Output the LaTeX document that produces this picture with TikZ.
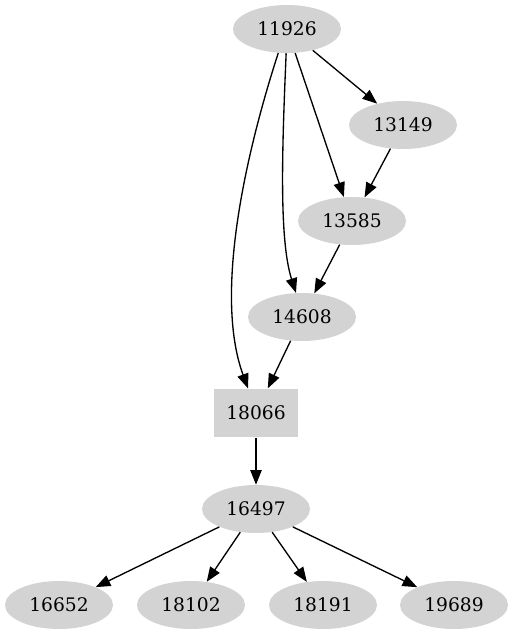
\documentclass[tikz,border=0pt]{standalone}
\usepackage{fontspec}
\setmainfont{DejaVu Serif}
\usetikzlibrary{shapes.geometric,arrows.meta}
\definecolor{lgrey}{HTML}{D3D3D3}
\begin{document}
\begin{tikzpicture}[x=0.75pt,y=-0.75pt,
  el/.style={ellipse,fill=lgrey,draw=none,minimum width=81pt,minimum height=36pt,inner sep=0pt,font=\fontsize{14}{16}\selectfont},
  bx/.style={rectangle,fill=lgrey,draw=none,minimum width=63pt,minimum height=36.5pt,inner sep=0pt,font=\fontsize{14}{16}\selectfont},
  edge/.style={line width=1pt,-{Triangle[length=11pt,width=8.5pt]}}]
\path[use as bounding box] (0,0) rectangle (514,635);
\node[el] (n11926) at (287,29) {11926};
\node[el] (n13149) at (403,125) {13149};
\node[el] (n13585) at (352,221) {13585};
\node[el] (n14608) at (302,317) {14608};
\node[bx] (n18066) at (256,413) {18066};
\node[el] (n16497) at (256,509) {16497};
\node[el] (n16652) at (59,605) {16652};
\node[el] (n18102) at (191,605) {18102};
\node[el] (n18191) at (323,605) {18191};
\node[el] (n19689) at (454,605) {19689};
\draw[edge] (n11926) -- (n13149);
\draw[edge] (n11926) -- (n13585);
\draw[edge] (n13149) -- (n13585);
\draw[edge] (n13585) -- (n14608);
\draw[edge] (n14608) -- (n18066);
\draw[edge] (n11926.268) .. controls (282,150) and (279,240) .. (n14608.104);
\draw[edge] (n11926.250) .. controls (250,140) and (212,290) .. (n18066.108);
\draw[edge] (n18066) -- (n16497);
\draw[edge] (n16497) -- (n16652);
\draw[edge] (n16497) -- (n18102);
\draw[edge] (n16497) -- (n18191);
\draw[edge] (n16497) -- (n19689);
\end{tikzpicture}
\end{document}
